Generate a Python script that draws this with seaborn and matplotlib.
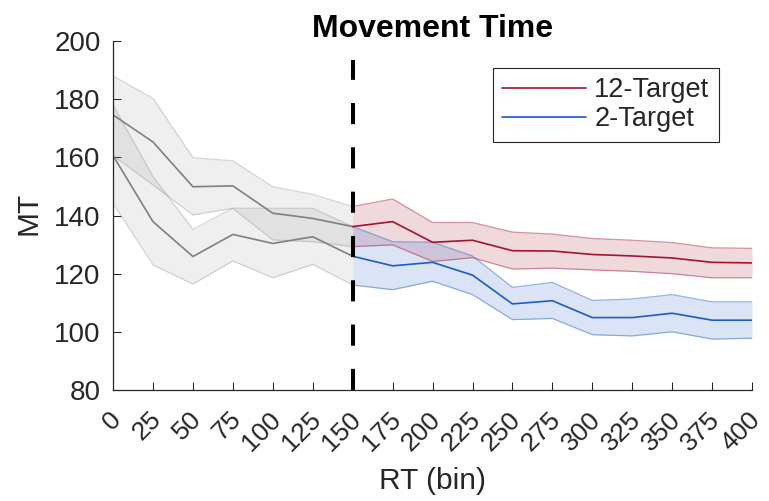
import pandas as pd
import seaborn as sns
import matplotlib.pyplot as plt
import matplotlib.transforms as mtransforms
from matplotlib.lines import Line2D

# RT bins (x) and movement times
rt_bins = [0, 25, 50, 75, 100, 125, 150, 175, 200, 225, 250, 275, 300, 325, 350, 375, 400]

mt12 = [174.6, 165.3, 149.9, 150.2, 140.8, 139.0, 136.2, 137.9, 130.8, 131.5, 127.9,
        127.8, 126.6, 126.1, 125.4, 123.9, 123.7]
mt12_hi = [188.0, 180.3, 159.9, 158.8, 149.9, 147.3, 143.1, 145.7, 137.6, 137.6, 134.3,
           133.6, 132.1, 131.5, 130.7, 128.9, 128.7]
mt12_lo = [160.6, 150.5, 140.2, 142.5, 131.6, 131.0, 129.3, 129.9, 124.2, 125.5, 121.6,
           121.9, 121.3, 120.8, 120.0, 118.6, 118.6]

mt2 = [160.6, 137.9, 125.9, 133.5, 130.4, 132.7, 126.0, 122.7, 123.9, 119.5, 109.6,
       110.7, 104.9, 104.9, 106.4, 104.0, 104.0]
mt2_hi = [178.0, 153.4, 135.3, 142.5, 142.5, 142.5, 136.2, 131.0, 130.8, 126.1, 115.3,
          117.0, 110.8, 111.3, 112.8, 110.3, 110.3]
mt2_lo = [144.2, 123.0, 116.4, 124.4, 118.6, 123.2, 116.1, 114.5, 117.4, 112.8, 104.2,
          104.6, 99.0, 98.6, 100.0, 97.5, 97.8]

cutoff = 150
y_ticks = [80, 100, 120, 140, 160, 180, 200]

# long table for seaborn
frames = []
for cond, m, lo, hi in [('12-Target', mt12, mt12_lo, mt12_hi), ('2-Target', mt2, mt2_lo, mt2_hi)]:
    frames.append(pd.DataFrame({'RT': rt_bins, 'MT': m, 'lo': lo, 'hi': hi, 'cond': cond}))
df = pd.concat(frames, ignore_index=True)
pre = df[df['RT'] <= cutoff]
post = df[df['RT'] >= cutoff]

sns.set_theme(style='white')
plt.rcParams['font.family'] = ['Liberation Sans', 'DejaVu Sans']

colors = {'12-Target': '#A2142F', '2-Target': '#1A5CC8'}
gray = '#808080'
axis_color = '#262626'

fig, ax = plt.subplots(figsize=(7.69, 5.01), dpi=100)
fig.subplots_adjust(left=0.147, right=0.978, bottom=0.2216, top=0.918)

# shaded bands (gray before the cutoff, coloured after)
for cond, c in colors.items():
    d = pre[pre['cond'] == cond]
    ax.fill_between(d['RT'], d['lo'], d['hi'], color=gray, alpha=0.12, lw=0)
    ax.plot(d['RT'], d['lo'], color=gray, alpha=0.3, lw=0.9)
    ax.plot(d['RT'], d['hi'], color=gray, alpha=0.3, lw=0.9)
    d = post[post['cond'] == cond]
    ax.fill_between(d['RT'], d['lo'], d['hi'], color=c, alpha=0.16, lw=0)
    ax.plot(d['RT'], d['lo'], color=c, alpha=0.45, lw=0.9)
    ax.plot(d['RT'], d['hi'], color=c, alpha=0.45, lw=0.9)

sns.lineplot(data=pre, x='RT', y='MT', units='cond', estimator=None, color=gray,
             lw=1.2, ax=ax)
sns.lineplot(data=post, x='RT', y='MT', hue='cond', palette=colors, lw=1.2,
             ax=ax, legend=False)

# cutoff marker
ax.plot([cutoff, cutoff], [80, 193.5], color='black', lw=2.9, dashes=(5.25, 5.75))

ax.set_xlim(0, 400)
ax.set_ylim(80, 200)
ax.set_xticks(rt_bins)
ax.set_xticklabels([str(v) for v in rt_bins], rotation=45, ha='right', va='top',
                   rotation_mode='anchor')
ax.set_yticks(y_ticks)
ax.tick_params(direction='in', length=5.5, width=0.75, colors=axis_color,
               labelsize=20, left=True, bottom=True)
ax.tick_params(axis='y', pad=9)
ax.tick_params(axis='x', pad=8, labelsize=19)

# nudge the rotated labels down like the original
offset = mtransforms.ScaledTranslation(-4 / 100, -6 / 100, fig.dpi_scale_trans)
for lbl in ax.get_xticklabels():
    lbl.set_transform(lbl.get_transform() + offset)

for side in ['top', 'right']:
    ax.spines[side].set_visible(False)
for side in ['left', 'bottom']:
    ax.spines[side].set_color(axis_color)
    ax.spines[side].set_linewidth(0.9)

ax.set_title('Movement Time', fontsize=23, fontweight='bold', color='black', pad=3)
ax.set_xlabel('RT (bin)', fontsize=21.5, color=axis_color)
ax.set_ylabel('MT', fontsize=21.5, color=axis_color)
ax.xaxis.set_label_coords(0.5, -0.262)
ax.xaxis.label.set_va('center')
ax.yaxis.set_label_coords(-0.133, 0.507)
ax.yaxis.label.set_va('center')

handles = [Line2D([], [], color=colors['12-Target'], lw=1.2),
           Line2D([], [], color=colors['2-Target'], lw=1.2)]
leg = ax.legend(handles, ['12-Target', '2-Target'], loc='upper right',
                bbox_to_anchor=(0.948, 0.923), borderaxespad=0, fontsize=19.5,
                handlelength=3.1, handletextpad=0.3, labelspacing=0.1,
                borderpad=0.35, fancybox=False, framealpha=1)
leg.get_frame().set_edgecolor(axis_color)
leg.get_frame().set_linewidth(0.8)

plt.savefig('out.png', dpi=100)
